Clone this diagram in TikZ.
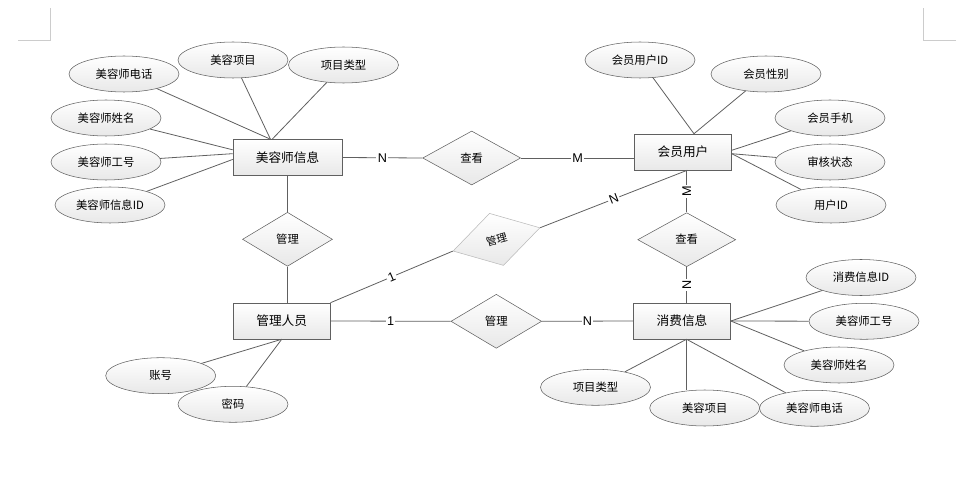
\documentclass[tikz,border=0pt]{standalone}
\usepackage{fontspec}
\setmainfont{Noto Sans CJK SC}
\newfontfamily\cardfont{Liberation Sans}
\usetikzlibrary{shapes.geometric}

\tikzset{
  shade box/.style={top color=white, bottom color=gray!18},
  entity/.style={draw=gray!75!black, shade box, minimum width=72.75pt, minimum height=27pt,
    inner sep=0pt, font=\fontsize{9.5}{11}\selectfont},
  attr/.style={ellipse, draw=gray!75!black, shade box, minimum width=82.5pt, minimum height=27pt,
    inner sep=0pt, font=\fontsize{8.5}{10}\selectfont},
  rel/.style={diamond, draw=gray!75!black, shade box, minimum width=73.5pt, minimum height=40.5pt,
    inner sep=0pt, font=\fontsize{8.5}{10}\selectfont},
  link/.style={draw=gray!75!black, line width=0.6pt},
  card/.style={fill=white, inner sep=1pt, font=\cardfont\fontsize{9.5}{10}\selectfont},
  pagemark/.style={draw=gray!40, line width=0.6pt}
}

\begin{document}
\begin{tikzpicture}[x=0.75pt, y=-0.75pt]
\useasboundingbox (0,0) rectangle (968,481);
\draw[pagemark] (18,40) -- (50,40) -- (50,8);
\draw[pagemark] (956,40) -- (923,40) -- (923,8);

% entities
\node[entity, minimum width=81.75pt] (mrs) at (287.5,157.5) {美容师信息};
\node[entity] (hy) at (683,152) {会员用户};
\node[entity] (gly) at (281.7,321) {管理人员};
\node[entity] (xf) at (682,321) {消费信息};

% relations
\node[rel] (ck1) at (471.7,158) {查看};
\node[rel] (ck2) at (686.7,239.7) {查看};
\node[rel, minimum width=67.5pt] (gl1) at (287.5,239.3) {管理};
\node[rel, minimum width=68pt] (gl2) at (496.3,321.3) {管理};
\node[rel, draw=gray!55, rotate=15, minimum width=67.5pt, font=\fontsize{8}{9}\selectfont]
  (gl3) at (496.5,239.4) {管理};

% attributes of 美容师信息
\node[attr] (a1) at (124,74) {美容师电话};
\node[attr] (a2) at (233,60) {美容项目};
\node[attr] (a3) at (343.5,65) {项目类型};
\node[attr] (a4) at (106,118) {美容师姓名};
\node[attr] (a5) at (106,162) {美容师工号};
\node[attr] (a6) at (110,205) {美容师信息ID};

% attributes of 会员用户
\node[attr] (b1) at (640,60) {会员用户ID};
\node[attr] (b2) at (766,74) {会员性别};
\node[attr] (b3) at (830,118) {会员手机};
\node[attr] (b4) at (830,162) {审核状态};
\node[attr] (b5) at (831,205) {用户ID};

% attributes of 管理人员
\node[attr] (c1) at (160.7,375.7) {账号};
\node[attr] (c2) at (233,404.3) {密码};

% attributes of 消费信息
\node[attr] (d1) at (861,277.5) {消费信息ID};
\node[attr] (d2) at (864,321.3) {美容师工号};
\node[attr] (d3) at (839,365) {美容师姓名};
\node[attr] (d6) at (595.5,387.3) {项目类型};
\node[attr] (d5) at (704.7,408) {美容项目};
\node[attr] (d4) at (814.5,408.3) {美容师电话};

% attribute links
\draw[link] (a1) -- (mrs.133);
\draw[link] (a2) -- (mrs.133);
\draw[link] (a3) -- (mrs.130);
\draw[link] (a4) -- (mrs.172);
\draw[link] (a5) -- (mrs.176);
\draw[link] (a6) -- (mrs.182);
\draw[link] (b1) -- (hy.59);
\draw[link] (b2) -- (hy.59);
\draw[link] (b3) -- (hy.2);
\draw[link] (b4) -- (hy.358);
\draw[link] (b5) -- (hy.358);
\draw[link] (c1) -- (gly.south);
\draw[link] (c2) -- (gly.south);
\draw[link] (d1) -- (xf.east);
\draw[link] (d2) -- (xf.east);
\draw[link] (d3) -- (xf.east);
\draw[link] (d4) -- (xf.284);
\draw[link] (xf.284) -- (xf.284 |- d5.north);
\draw[link] (d6) -- (xf.284);

% relation links
\draw[link] (mrs.east) -- node[card] {N} (ck1.west);
\draw[link] (ck1.east) -- node[card] {M} (ck1.east -| hy.west);
\draw[link] (mrs.south -| gl1.north) -- (gl1.north);
\draw[link] (gl1.south) -- (gl1.south |- gly.north);
\draw[link] (gly.east) -- node[card] {1} (gl2.west);
\draw[link] (gl2.east) -- node[card] {N} (xf.west);
\draw[link] (gly.north east) -- node[card, sloped] {1} (gl3.west);
\draw[link] (gl3.east) -- node[card, sloped] {N} (hy.283);
\draw[link] (ck2.north) -- node[card, sloped] {M} (ck2.north |- hy.south);
\draw[link] (ck2.south |- xf.north) -- node[card, sloped] {N} (ck2.south);
\end{tikzpicture}
\end{document}
